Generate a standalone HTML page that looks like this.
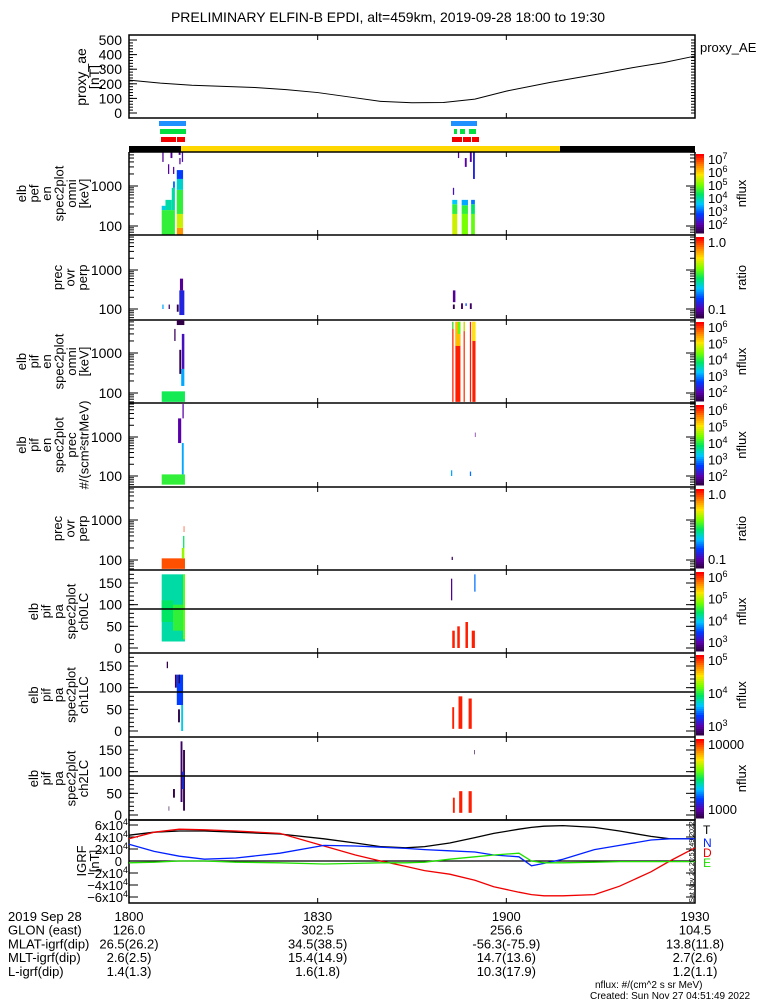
<!DOCTYPE html>
<html><head><meta charset="utf-8"><style>
body{margin:0;background:#fff;}
svg{display:block;font-family:"Liberation Sans",sans-serif;}
</style></head><body>
<svg id="c" width="775" height="1000" viewBox="0 0 775 1000"></svg>
<script>
// ---------- data ----------
const aeTimes=[0,5,10,15,20,25,30,35,40,45,50,55,60,67,75,80,85,90];
const aeValues=[225,205,190,182,175,160,140,110,80,70,72,95,150,210,270,310,345,390];
const igrfTimes=[0,4,8,12,17,24,31,36,40,44,47,51,55,58,62,64,66,69,74,78,83,86,90];
const igrfT=[4.3,4.8,5.0,5.0,4.8,4.5,3.7,3.0,2.4,2.2,2.4,3.0,3.9,4.6,5.3,5.6,5.8,5.9,5.6,5.0,4.1,3.7,3.7];
const igrfD=[3.7,4.8,5.3,5.2,5.0,4.6,2.5,1.0,0,-0.9,-1.6,-2.2,-3.2,-4.3,-5.2,-5.6,-5.8,-5.8,-5.6,-4.2,-1.8,0,2.2];
const igrfN=[2.8,1.6,0.8,0.3,0.5,1.3,2.6,2.5,2.3,2.1,1.9,1.7,1.5,1.0,0.7,-0.8,-0.4,0.3,1.9,2.6,3.5,3.7,3.7];
const igrfE=[-0.3,-0.2,0,0,-0.2,-0.3,-0.5,-0.4,-0.3,-0.3,-0.2,0.3,0.7,1.0,1.3,0,-0.3,-0.3,-0.2,-0.1,-0.1,-0.1,-0.1];
const aeTicks=[0,100,200,300,400,500];
const logTicks=[100,1000];
const paTicks=[0,50,100,150];
const igrfTicks=[-6,-4,-2,0,2,4,6];
const timeTickLabels=["1800","1830","1900","1930"];
const timeTickMins=[0,30,60,90];
// spectrogram blocks: [t0,t1,low,high,colorLevel]
const p1Blocks=[[5.2,7.3,60,250,0.55],[5.2,5.8,250,320,0.4],[5.8,6.8,250,450,0.45],[6.8,7.3,250,900,0.45],[7.0,7.3,900,1300,0.3],
[7.6,8.6,60,90,0.85],[7.6,8.6,90,200,0.7],[7.6,8.6,200,800,0.55],[7.6,8.6,800,1500,0.42],[7.6,8.6,1500,2500,0.25],
[5.3,5.5,4000,7000,0.1],[6.2,6.4,2000,3500,0.12],[6.6,6.9,5000,8000,0.1],[7.9,8.2,6000,9000,0.08],[8.0,8.2,3500,5000,0.12],[8.4,8.6,4000,9000,0.15],[7.0,7.2,2000,3000,0.12],
[51.4,52.2,60,200,0.7],[51.4,52.2,200,350,0.55],[51.4,52.2,350,450,0.38],[52.9,53.9,60,200,0.62],[52.9,53.9,200,330,0.55],[52.9,53.9,330,450,0.35],
[54.4,55.0,60,200,0.6],[54.4,55.0,200,350,0.5],[54.4,55.0,350,450,0.3],[54.7,55.0,1500,9000,0.2],
[51.5,51.7,600,900,0.15],[52.3,52.5,5000,9000,0.1],[53.4,53.7,3000,5000,0.12],[54.2,54.5,4000,9000,0.1]];
const p2Blocks=[[8.0,8.8,70,300,0.2],[8.1,8.6,300,600,0.1],[5.3,5.5,100,130,0.35],[6.3,6.5,100,130,0.05],[7.6,7.9,85,130,0.02],
[51.5,51.9,150,300,0.1],[51.5,51.8,100,130,0.02],[52.8,53.1,100,140,0.05],[54.2,54.5,100,140,0.05],[53.5,53.7,120,140,0.25]];
const p3Blocks=[[5.2,8.9,60,110,0.52],[8.3,8.8,150,400,0.35],[8.4,8.8,400,3000,0.15],[7.6,8.8,5000,9000,0.02],[7.2,7.4,2000,4000,0.04],[8.0,8.3,300,1200,0.03],
[51.4,51.6,60,6000,0.97],[51.9,52.7,60,6000,0.97],[53.2,53.4,60,6000,0.95],[54.2,54.4,60,6000,0.97],[54.6,55.1,60,6000,0.97],
[51.9,52.7,1500,6000,0.8],[54.6,55.1,2000,6000,0.75],[52.3,52.7,3000,6000,0.6],[51.4,51.6,4000,6000,0.55],[53.2,53.4,3500,6000,0.7]];
const p4Blocks=[[5.2,8.9,60,110,0.55],[8.4,8.7,110,700,0.35],[7.8,8.3,700,3000,0.12],[8.5,8.7,3000,7000,0.12],
[51.2,51.4,100,140,0.35],[54.2,54.4,100,130,0.3],[55.0,55.1,1000,1300,0.1]];
const p5Blocks=[[5.2,8.9,60,110,0.92],[8.4,8.8,110,200,0.65],[8.6,8.8,200,400,0.5],[8.7,8.8,500,700,0.95],[51.3,51.5,100,120,0.05]];
const p6Blocks=[[5.2,8.9,15,170,0.45],[5.2,7.0,60,110,0.5],[7.0,8.6,40,100,0.55],[8.6,8.9,20,170,0.6],
[51.2,51.4,110,160,0.1],[51.4,51.8,0,40,0.97],[52.2,52.6,0,50,0.97],[53.5,53.9,0,60,0.97],[54.5,55,0,40,0.97],[54.9,55.1,130,170,0.3]];
const p7Blocks=[[6.0,6.2,145,160,0.02],[7.3,7.6,100,130,0.05],[7.6,8.6,60,130,0.25],[8.3,8.6,0,60,0.4],[7.8,8.1,20,50,0.02],[7.9,8.1,110,130,0.02],
[51.4,51.7,5,55,0.97],[52.4,53.0,5,80,0.97],[54.0,54.5,5,75,0.97]];
const p8Blocks=[[8.2,8.5,30,170,0.05],[8.6,8.9,10,150,0.03],[7.0,7.3,40,60,0.02],[6.3,6.4,10,20,0.02],[8.5,8.7,60,100,0.25],
[51.5,51.8,5,40,0.97],[52.5,53.0,5,55,0.97],[54.0,54.5,5,55,0.97],[54.9,55.0,140,150,0.02]];

// ---------- helpers ----------
const S=document.getElementById('c');const NS='http://www.w3.org/2000/svg';
function el(tag,attrs,parent){const e=document.createElementNS(NS,tag);for(const k in attrs)e.setAttribute(k,attrs[k]);(parent||S).appendChild(e);return e;}
const X0=129,X1=695;
function xT(t){return X0+t*(X1-X0)/90;}
function colorOf(v){const stops=[[0,[40,0,50]],[0.12,[90,0,170]],[0.25,[0,60,255]],[0.38,[0,200,255]],[0.5,[0,230,100]],[0.62,[120,255,0]],[0.75,[255,230,0]],[0.87,[255,130,0]],[1,[255,0,0]]];
for(let i=1;i<stops.length;i++){if(v<=stops[i][0]){const a=stops[i-1],b=stops[i],f=(v-a[0])/(b[0]-a[0]);return 'rgb('+a[1].map((c,j)=>Math.round(c+(b[1][j]-c)*f)).join(',')+')';}}return 'rgb(255,0,0)';}
function txt(x,y,s,opt,name){const t=el('text',Object.assign({x:x,y:y,'font-size':13,fill:'#000'},opt||{}));t.textContent=s;return t;}

// title
txt(388,22,'PRELIMINARY ELFIN-B EPDI, alt=459km, 2019-09-28 18:00 to 19:30',{'text-anchor':'middle','font-size':14},'chart-title');

// ---------- proxy AE ----------
const aeTop=35,aeBot=118;
function yAE(v){return 113-v*(113-40)/500;}
el('rect',{x:X0,y:aeTop,width:X1-X0,height:aeBot-aeTop,fill:'none',stroke:'#000','stroke-width':1.5,});
aeTicks.forEach(v=>{const l=el('line',{x1:X0,x2:X0+8,y1:yAE(v),y2:yAE(v),stroke:'#000'});txt(122,yAE(v)+5,String(v),{'text-anchor':'end','font-size':14},'ae-tick-label');});
for(let v=0;v<=500;v+=20){el('line',{x1:X0,x2:X0+4,y1:yAE(v),y2:yAE(v),stroke:'#000'});el('line',{x1:X1,x2:X1-4,y1:yAE(v),y2:yAE(v),stroke:'#000'});}
timeTickMins.forEach(t=>{el('line',{x1:xT(t),x2:xT(t),y1:aeBot,y2:aeBot-5,stroke:'#000'});el('line',{x1:xT(t),x2:xT(t),y1:aeTop,y2:aeTop+5,stroke:'#000'});});
const aeLine=el('polyline',{points:aeTimes.map((t,i)=>xT(t)+','+yAE(aeValues[i])).join(' '),fill:'none',stroke:'#000','stroke-width':1});

txt(700,52,'proxy_AE',{'font-size':13},'proxy-ae-legend');
[['proxy_ae',86],['[nT]',99]].forEach(a=>txt(a[1],77,a[0],{'text-anchor':'middle','transform':'rotate(-90 '+a[1]+' 77)','font-size':14},'ae-axis-title'));

// coverage bars
[[159,186,121,'#1e90ff'],[160,186,129,'#00e040'],[161,176,137,'#f00000'],[177,185,137,'#f00000'],
 [451,477,121,'#1e90ff'],[454,457,129,'#00e040'],[460,465,129,'#00e040'],[469,476,129,'#00e040'],[452,462,137,'#f00000'],[463,471,137,'#f00000'],[472,479,137,'#f00000']].forEach(b=>{
 const r=el('rect',{x:b[0],y:b[2],width:b[1]-b[0],height:5,fill:b[3]});});
// orbit bar
el('rect',{x:X0,y:146,width:52,height:6,fill:'#000',});
el('rect',{x:181,y:146,width:379,height:6,fill:'#ffd700',});
el('rect',{x:560,y:146,width:135,height:6,fill:'#000',});

// ---------- spectrogram panels ----------
const panels=[
 {top:152,bot:235,type:'log',y1000:186,dec:40,blocks:p1Blocks,lab:['elb','pef','en','spec2plot','omni','[keV]'],cb:[['10','7'],['10','6'],['10','5'],['10','4'],['10','3'],['10','2']],cbTitle:'nflux',name:'elb-pef-omni'},
 {top:235,bot:320,type:'log',y1000:270,dec:39,blocks:p2Blocks,lab:['prec','ovr','perp'],cb:[['1.0',''],['0.1','']],cbTitle:'ratio',name:'pef-prec-ratio'},
 {top:320,bot:403,type:'log',y1000:353,dec:40,blocks:p3Blocks,lab:['elb','pif','en','spec2plot','omni','[keV]'],cb:[['10','6'],['10','5'],['10','4'],['10','3'],['10','2']],cbTitle:'nflux',name:'elb-pif-omni'},
 {top:403,bot:487,type:'log',y1000:437,dec:39,blocks:p4Blocks,lab:['elb','pif','en','spec2plot','prec','#/(scm²strMeV)'],cb:[['10','6'],['10','5'],['10','4'],['10','3'],['10','2']],cbTitle:'nflux',name:'elb-pif-prec'},
 {top:487,bot:570,type:'log',y1000:520,dec:40,blocks:p5Blocks,lab:['prec','ovr','perp'],cb:[['1.0',''],['0.1','']],cbTitle:'ratio',name:'pif-prec-ratio'},
 {top:570,bot:653,type:'pa',y0:648,blocks:p6Blocks,lab:['elb','pif','pa','spec2plot','ch0LC'],cb:[['10','6'],['10','5'],['10','4'],['10','3']],cbTitle:'nflux',name:'pa-ch0'},
 {top:653,bot:737,type:'pa',y0:731,blocks:p7Blocks,lab:['elb','pif','pa','spec2plot','ch1LC'],cb:[['10','5'],['10','4'],['10','3']],cbTitle:'nflux',name:'pa-ch1'},
 {top:737,bot:820,type:'pa',y0:815,blocks:p8Blocks,lab:['elb','pif','pa','spec2plot','ch2LC'],cb:[['10000',''],['1000','']],cbTitle:'nflux',name:'pa-ch2'}];
panels.forEach((p,pi)=>{
 const g=el('g',{});
 const yv=p.type==='log'?(v=>p.y1000+(3-Math.log10(v))*p.dec):(v=>p.y0-v*65/150);
 const cp=el('clipPath',{id:'clip'+pi},g);el('rect',{x:X0,y:p.top,width:X1-X0,height:p.bot-p.top},cp);
 const dg=el('g',{'clip-path':'url(#clip'+pi+')'},g);
 p.blocks.forEach(b=>{const y1=yv(b[3]),y2=yv(b[2]);const r=el('rect',{x:xT(b[0]),y:y1,width:xT(b[1])-xT(b[0]),height:y2-y1,fill:colorOf(b[4])},dg);
  });
 el('line',{x1:X0,x2:X1,y1:p.bot,y2:p.bot,stroke:'#000','stroke-width':1.5},g);
 el('line',{x1:X0,x2:X0,y1:p.top,y2:p.bot,stroke:'#000','stroke-width':1.5},g);
 el('line',{x1:X1,x2:X1,y1:p.top,y2:p.bot,stroke:'#000','stroke-width':1.5},g);
 timeTickMins.forEach(t=>{el('line',{x1:xT(t),x2:xT(t),y1:p.bot,y2:p.bot-5,stroke:'#000'},g);el('line',{x1:xT(t),x2:xT(t),y1:p.top,y2:p.top+5,stroke:'#000'},g);});
 if(p.type==='log'){
  logTicks.forEach(v=>{el('line',{x1:X0,x2:X0+9,y1:yv(v),y2:yv(v),stroke:'#000'},g);el('line',{x1:X1,x2:X1-9,y1:yv(v),y2:yv(v),stroke:'#000'},g);txt(122,yv(v)+5,String(v),{'text-anchor':'end','font-size':14},'y-tick-label');});
  [60,70,80,90,200,300,400,500,600,700,800,900,2000,3000,4000,5000,6000,7000,8000,9000].forEach(v=>{const y=yv(v);if(y>p.top&&y<p.bot){el('line',{x1:X0,x2:X0+5,y1:y,y2:y,stroke:'#000'},g);el('line',{x1:X1,x2:X1-5,y1:y,y2:y,stroke:'#000'},g);}});
 }else{
  paTicks.forEach(v=>{el('line',{x1:X0,x2:X0+9,y1:yv(v),y2:yv(v),stroke:'#000'},g);el('line',{x1:X1,x2:X1-9,y1:yv(v),y2:yv(v),stroke:'#000'},g);txt(122,yv(v)+5,String(v),{'text-anchor':'end','font-size':14},'y-tick-label');});
  for(let v=10;v<180;v+=10){el('line',{x1:X0,x2:X0+5,y1:yv(v),y2:yv(v),stroke:'#000'},g);el('line',{x1:X1,x2:X1-5,y1:yv(v),y2:yv(v),stroke:'#000'},g);}
  el('line',{x1:X0,x2:X1,y1:yv(90),y2:yv(90),stroke:'#000','stroke-width':1.5},g);
 }
 const cy=(p.top+p.bot)/2, n=p.lab.length, xs=86-(n-1)*12;
 p.lab.forEach((s,i)=>{const x=xs+i*12.5;txt(x,cy,s,{'text-anchor':'middle','transform':'rotate(-90 '+x+' '+cy+')','font-size':13},'panel-axis-title');});
 const cbTop=p.top+2,cbBot=p.bot-2;
 for(let i=0;i<40;i++){const v=1-i/40;el('rect',{x:696,y:cbTop+i*(cbBot-cbTop)/40,width:8,height:(cbBot-cbTop)/40+0.5,fill:colorOf(v)},g);}
 const nl=p.cb.length;
 p.cb.forEach((c,i)=>{const y=cbTop+10+i*((cbBot-cbTop-14)/Math.max(nl-1,1));const t=txt(708,y,c[0],{'font-size':13},'colorbar-tick-label');
  if(c[1]){const s=el('tspan',{dy:-5,'font-size':9});s.textContent=c[1];t.appendChild(s);}});
 txt(746,cy,p.cbTitle,{'text-anchor':'middle','transform':'rotate(-90 746 '+cy+')','font-size':13},'colorbar-title');
});
el('line',{x1:X0,x2:X1,y1:152,y2:152,stroke:'#000','stroke-width':1.5});

// ---------- IGRF ----------
function yI(v){return 861-v*36/6;}
el('rect',{x:X0,y:820,width:X1-X0,height:83,fill:'none',stroke:'#000','stroke-width':1.5,});
el('line',{x1:X0,x2:X1,y1:yI(0),y2:yI(0),stroke:'#000','stroke-width':1.2,});
igrfTicks.forEach(v=>{el('line',{x1:X0,x2:X0+9,y1:yI(v),y2:yI(v),stroke:'#000'});el('line',{x1:X1,x2:X1-9,y1:yI(v),y2:yI(v),stroke:'#000'});
 const t=txt(122,yI(v)+5,v===0?'0':(v<0?'−':'')+Math.abs(v)+'x10',{'text-anchor':'end','font-size':13},'igrf-tick-label');
 if(v!==0){const s=el('tspan',{dy:-5,'font-size':9});s.textContent='4';t.appendChild(s);t.setAttribute('x',128);}});
timeTickMins.forEach(t=>{el('line',{x1:xT(t),x2:xT(t),y1:903,y2:898,stroke:'#000'});});
[['igrf-t','#000',igrfT],['igrf-d','#f00000',igrfD],['igrf-n','#0020ff',igrfN],['igrf-e','#20e000',igrfE]].forEach(s=>{
 const l=el('polyline',{points:igrfTimes.map((t,i)=>xT(t)+','+yI(s[2][i])).join(' '),fill:'none',stroke:s[1],'stroke-width':1.3});
 });
[['IGRF',86],['[nT]',99]].forEach(a=>txt(a[1],861,a[0],{'text-anchor':'middle','transform':'rotate(-90 '+a[1]+' 861)','font-size':13},'igrf-axis-title'));
[['T','#000',829],['N','#0020ff',842],['D','#f00000',852],['E','#20e000',862]].forEach(a=>txt(703,a[2]+5,a[0],{fill:a[1],'font-size':12},'igrf-legend-'+a[0]));
txt(694,862,'Sat Nov 26 20:51:49 2022',{'text-anchor':'middle','transform':'rotate(-90 694 862)','font-size':7},'timestamp-vertical');

// ---------- bottom annotations ----------
const rows=[['2019 Sep 28',["1800","1830","1900","1930"]],['GLON (east)',["126.0","302.5","256.6","104.5"]],['MLAT-igrf(dip)',["26.5(26.2)","34.5(38.5)","-56.3(-75.9)","13.8(11.8)"]],['MLT-igrf(dip)',["2.6(2.5)","15.4(14.9)","14.7(13.6)","2.7(2.6)"]],['L-igrf(dip)',["1.4(1.3)","1.6(1.8)","10.3(17.9)","1.2(1.1)"]]];
rows.forEach((r,i)=>{const y=921+i*13.7;txt(8,y,r[0],{'font-size':13},'row-label');
 r[1].forEach((s,j)=>txt(xT(timeTickMins[j]),y,s,{'text-anchor':'middle','font-size':13},'row-value'));});
txt(595,988,'nflux: #/(cm^2 s sr MeV)',{'font-size':10},'unit-note');
txt(590,999,'Created: Sun Nov 27 04:51:49 2022',{'font-size':10},'created-note');
</script>
</body></html>
